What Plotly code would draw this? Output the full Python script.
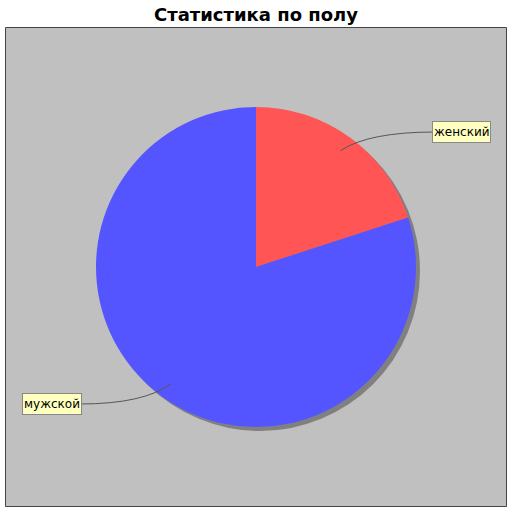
import math
import plotly.graph_objects as go

title = "Статистика по полу"
categories = ["женский", "мужской"]
values = [20, 80]
colors = ["#FF5555", "#5555FF"]

W = H = 512
cx, cy, R = 256, 267, 160          # pie centre / radius in pixels
label_boxes = [(461.5, 132, 435), (51.5, 404, 80)]  # label centre x, y, link-end x


def px(x):
    return x / W


def py(y):
    return 1 - y / H


fig = go.Figure()
fig.add_trace(go.Pie(
    labels=categories, values=values, sort=False, direction="clockwise", rotation=0,
    marker=dict(colors=colors, line=dict(width=0)), textinfo="none", hoverinfo="label+value",
    showlegend=False,
    domain=dict(x=[px(cx - R), px(cx + R)], y=[py(cy + R), py(cy - R)]),
))

shapes = [
    dict(type="rect", xref="paper", yref="paper", x0=px(5.5), x1=px(506.5), y0=py(506.5), y1=py(27.5),
         fillcolor="#C0C0C0", line=dict(color="#444444", width=1), layer="below"),
    dict(type="circle", xref="paper", yref="paper", x0=px(cx - R + 4), x1=px(cx + R + 4),
         y0=py(cy + R + 4), y1=py(cy - R + 4), fillcolor="#808080", line=dict(width=0), layer="below"),
]

annotations = []
total = sum(values)
cum = 0
for cat, v, (lx, ly, ex) in zip(categories, values, label_boxes):
    mid = (cum + v / 2) / total * 2 * math.pi
    cum += v
    ax = cx + 0.9 * R * math.sin(mid)
    ay = cy - 0.9 * R * math.cos(mid)
    ctrl_x = ax + (ex - ax) * 0.3
    ctrl_y = ly
    path = f"M {px(ax)},{py(ay)} Q {px(ctrl_x)},{py(ctrl_y)} {px(ex)},{py(ly)}"
    shapes.append(dict(type="path", xref="paper", yref="paper", path=path,
                       line=dict(color="#555555", width=1), layer="above"))
    annotations.append(dict(x=px(lx), y=py(ly), xref="paper", yref="paper", text=cat, showarrow=False,
                            xanchor="center", yanchor="middle", height=18,
                            font=dict(family="DejaVu Sans", size=12, color="black"),
                            bgcolor="#FFFFC0", bordercolor="#888888", borderwidth=1, borderpad=1))

fig.update_layout(
    width=W, height=H, margin=dict(l=0, r=0, t=0, b=0),
    paper_bgcolor="white",
    title=dict(text=f"<b>{title}</b>", x=0.5, xanchor="center", y=py(15), yanchor="middle",
               font=dict(family="DejaVu Sans", size=18, color="black")),
    shapes=shapes, annotations=annotations,
)

fig.write_html("out.html")
